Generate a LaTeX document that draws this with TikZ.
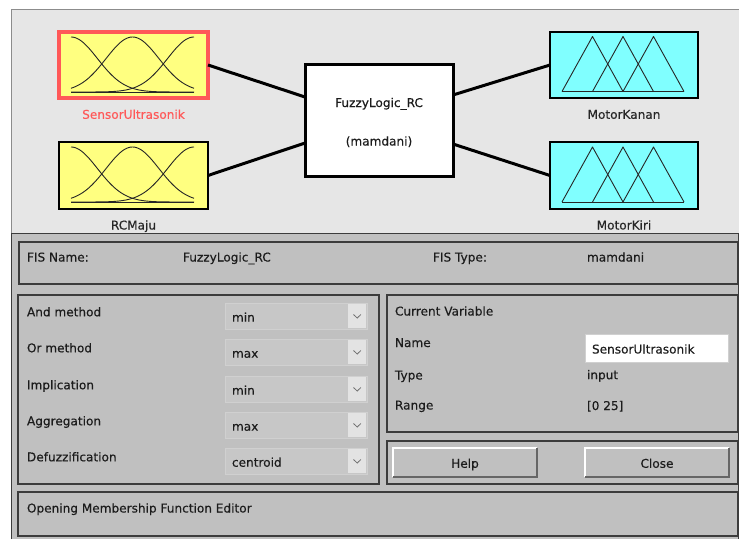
\documentclass[tikz,border=0pt]{standalone}
\usepackage{fontspec}
\setmainfont[FakeBold=0.35]{DejaVu Sans}
\usetikzlibrary{calc}

\definecolor{canvas}{HTML}{E6E6E6}
\definecolor{panel}{HTML}{C0C0C0}
\definecolor{edge}{HTML}{3C3C3C}
\definecolor{inyellow}{HTML}{FFFF80}
\definecolor{outcyan}{HTML}{80FFFF}
\definecolor{selred}{HTML}{FF5858}
\definecolor{ink}{HTML}{1C1C1C}
\definecolor{dropbody}{HTML}{C7C7C7}
\definecolor{dropedge}{HTML}{D0D0D0}
\definecolor{droparrow}{HTML}{E3E3E3}
\definecolor{chev}{HTML}{707070}

% three Gaussian membership functions over a 123-unit range
\newcommand\drawgaussians[2]{%
  \foreach \ctr in {0,61.5,123}{%
    \draw[mfline] plot[domain=0:123, samples=61, smooth]
      ({#1+\x}, {#2-55*exp(-0.5*((\x-\ctr)/26.5)^2)});
  }%
  \draw[mfline] (#1,#2) -- ({#1+123},#2);
}
% three triangular membership functions over a 122-unit range
\newcommand\drawtriangles[2]{%
  \foreach \off in {0,30.5,61}{%
    \draw[mfline] ({#1+\off},#2) -- +(30.5,-55) -- +(61,0);
  }%
  \draw[mfline] (#1,#2) -- ({#1+122},#2);
}

\begin{document}
\begin{tikzpicture}[x=1pt, y=-1pt,
  font=\fontsize{12.1}{14}\selectfont,
  every node/.style={inner sep=0pt, outer sep=0pt, text=ink},
  mfline/.style={line width=0.9pt, black!85, line join=round},
  varbox/.style={draw=black, line width=1.6pt, minimum width=149pt, minimum height=67pt},
  link/.style={line width=3pt, black},
  lbl/.style={anchor=base, text=black!85},
  framebox/.style={draw=edge, line width=1.5pt, fill=panel},
  txt/.style={anchor=base west},
  dropbox/.style={draw=dropedge, line width=1pt, fill=dropbody, minimum width=142pt, minimum height=26pt},
  btn/.style={fill=panel, minimum width=144pt, minimum height=29pt},
]
\useasboundingbox (0,0) rectangle (739,539);
\fill[white] (0,0) rectangle (739,539);

% ---- diagram area ----
\fill[canvas] (11,9.5) rectangle (739,233);
\draw[black!45, line width=1pt] (739,9.5) -- (11,9.5) -- (11,233);

% inputs
\node[varbox, fill=inyellow, draw=selred, line width=4pt, minimum width=149pt, minimum height=66pt] (sensor) at (133.5,65) {};
\drawgaussians{71}{92}
\node[lbl, text=selred] (sensorlbl) at (133.5,118.8) {SensorUltrasonik};

\node[varbox, fill=inyellow] (rcmaju) at (133.5,175.5) {};
\drawgaussians{71}{202}
\node[lbl] (rcmajulbl) at (133.5,229.5) {RCMaju};

% system block
\node[draw=black, line width=3pt, fill=white, minimum width=148pt, minimum height=112pt] (fis) at (379,120) {};
\node[anchor=base] (fisname) at (379,107) {FuzzyLogic\_RC};
\node[anchor=base] (fistype) at (379,145.5) {(mamdani)};

% outputs
\node[varbox, fill=outcyan, minimum width=148pt, minimum height=66pt] (kanan) at (624,65) {};
\drawtriangles{562}{91.5}
\node[lbl] (kananlbl) at (624,118.8) {MotorKanan};

\node[varbox, fill=outcyan, minimum width=148pt] (kiri) at (624,175.5) {};
\drawtriangles{562}{202}
\node[lbl] (kirilbl) at (624,229.5) {MotorKiri};

% connectors
\draw[link] (sensor.east) -- ([yshift=23pt]fis.west);
\draw[link] (rcmaju.east) -- ([yshift=-23pt]fis.west);
\draw[link] ([yshift=25pt]fis.east) -- (kanan.west);
\draw[link] ([yshift=-24pt]fis.east) -- (kiri.west);

% ---- control panel ----
\fill[panel] (11,233) rectangle (739,539);
\draw[edge, line width=1.5pt] (11.5,539) -- (11.5,233.5) -- (738.3,233.5) -- (738.3,539);

\node[framebox, minimum width=719pt, minimum height=42pt] (fisbox) at (378.5,263) {};
\node[txt] (fisnamelbl) at (27,261.5) {FIS Name:};
\node[txt] (fisnameval) at (183,261.5) {FuzzyLogic\_RC};
\node[txt] (fistypelbl) at (433,261.5) {FIS Type:};
\node[txt] (fistypeval) at (587,261.5) {mamdani};

\node[framebox, minimum width=361pt, minimum height=189pt] (methbox) at (198.5,389.5) {};
\foreach \lab/\val/\yy [count=\i] in {And method/min/303, Or method/max/339,
    Implication/min/376, Aggregation/max/412, Defuzzification/centroid/448}{
  \node[txt] (methlbl\i) at (27,{\yy+13.3}) {\lab};
  \node[dropbox] (drop\i) at (296,{\yy+13}) {};
  \fill[droparrow] (348,{\yy+0.6}) rectangle (366.4,{\yy+25.4});
  \draw[chev, line width=0.8pt] (353.5,{\yy+11.5}) -- (357.2,{\yy+15}) -- (360.9,{\yy+11.5});
  \node[txt] (methval\i) at (232,{\yy+18.7}) {\val};
}

\node[framebox, minimum width=351pt, minimum height=137pt] (curbox) at (562.5,363.5) {};
\node[txt] (curlbl) at (395,315.5) {Current Variable};
\node[txt] (namelbl) at (395,347) {Name};
\node[draw=dropedge, line width=0.8pt, fill=white, minimum width=143pt, minimum height=28pt] (namefield) at (656.5,348) {};
\node[txt] (nameval) at (592,353.5) {SensorUltrasonik};
\node[txt] (typelbl) at (395,379.5) {Type};
\node[txt] (typeval) at (587,379.2) {input};
\node[txt] (rangelbl) at (395,409.5) {Range};
\node[txt] (rangeval) at (587,410) {[0 25]};

\node[framebox, minimum width=351pt, minimum height=43pt] (btnbox) at (562.5,462.5) {};
\foreach \nm/\cx in {help/465, close/657}{
  \node[btn] (\nm) at (\cx,462.5) {};
  \draw[white, line width=1.4pt] (\nm.south west) -- (\nm.north west) -- (\nm.north east);
  \draw[black!60, line width=1.4pt] (\nm.south west) -- (\nm.south east) -- (\nm.north east);
}
\node[anchor=base] (helplbl) at (465,467.8) {Help};
\node[anchor=base] (closelbl) at (657,467.8) {Close};

\node[framebox, minimum width=720pt, minimum height=44pt] (msgbox) at (378,514) {};
\node[txt] (msg) at (27,512.5) {Opening Membership Function Editor};
\end{tikzpicture}
\end{document}
